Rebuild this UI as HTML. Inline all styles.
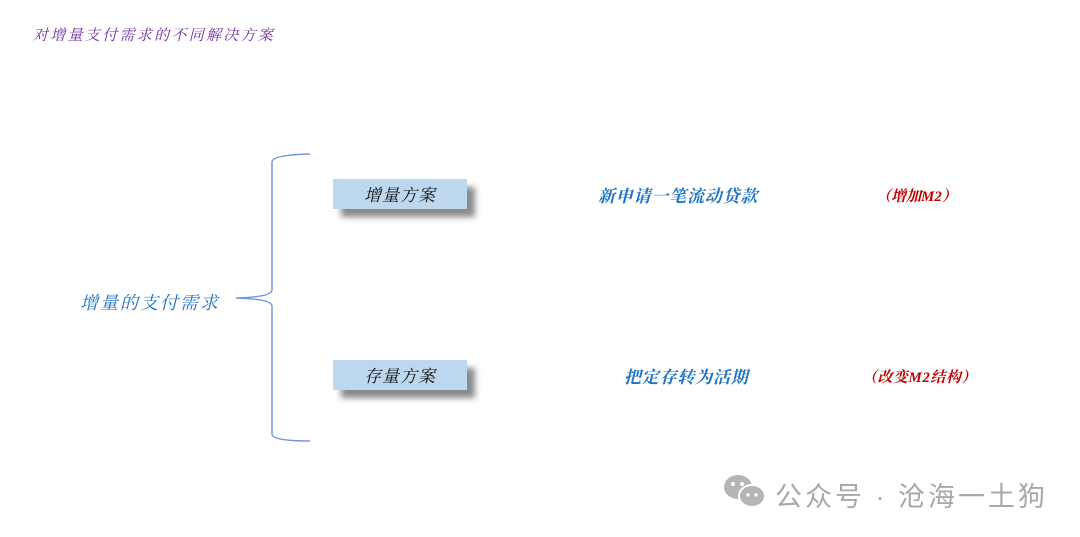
<!DOCTYPE html>
<html><head><meta charset="utf-8"><style>
body{margin:0;width:1080px;height:537px;background:#fff;position:relative;overflow:hidden;font-family:"Liberation Serif","Noto Serif CJK SC",serif;}
.t{position:absolute;font-style:italic;white-space:nowrap;}
.box{position:absolute;width:134px;height:30px;background:#bdd7ee;box-shadow:8px 8px 6px #8a8a8a;text-align:center;line-height:33px;font-size:17px;letter-spacing:1px;font-style:italic;color:#111;}
</style></head><body>
<div class="t" style="left:33px;top:24px;font-size:15px;letter-spacing:2.3px;color:#7030a0;">对增量支付需求的不同解决方案</div>
<svg width="1080" height="537" style="position:absolute;left:0;top:0">
<path d="M310 154 Q272 155 272 162 L272 290 Q272 297 236 298 Q272 299 272 306 L272 434 Q272 441 310 441" fill="none" stroke="#7199d8" stroke-width="1.5"/>
</svg>
<div class="t" style="left:80px;top:289px;font-size:18px;letter-spacing:2px;color:#1f73c2;">增量的支付需求</div>
<div class="box" style="left:333px;top:179px;">增量方案</div>
<div class="box" style="left:333px;top:360px;">存量方案</div>
<div class="t" style="left:598px;top:182px;font-size:17px;letter-spacing:0.8px;color:#1f73c2;font-weight:bold;">新申请一笔流动贷款</div>
<div class="t" style="left:876px;top:185px;font-size:15px;color:#c00000;font-weight:bold;">（增加M2）</div>
<div class="t" style="left:624px;top:363px;font-size:17px;letter-spacing:0.8px;color:#1f73c2;font-weight:bold;">把定存转为活期</div>
<div class="t" style="left:862px;top:366px;font-size:15px;letter-spacing:0.5px;color:#c00000;font-weight:bold;">（改变M2结构）</div>
<svg width="46" height="40" style="position:absolute;left:722px;top:472px">
<ellipse cx="16" cy="15" rx="14" ry="12" fill="#b5b5b5"/>
<ellipse cx="30" cy="24" rx="13" ry="11" fill="#b5b5b5" stroke="#fff" stroke-width="2"/>
<circle cx="11" cy="12" r="2" fill="#fff"/><circle cx="20" cy="12" r="2" fill="#fff"/>
<circle cx="26" cy="23" r="1.7" fill="#fff"/><circle cx="34" cy="23" r="1.7" fill="#fff"/>
</svg>
<div style="position:absolute;left:775px;top:475px;font-size:27px;letter-spacing:3px;color:#a8a8a8;font-family:'Liberation Sans','Noto Sans CJK SC',sans-serif;white-space:nowrap;">公众号 · 沧海一土狗</div>
</body></html>
